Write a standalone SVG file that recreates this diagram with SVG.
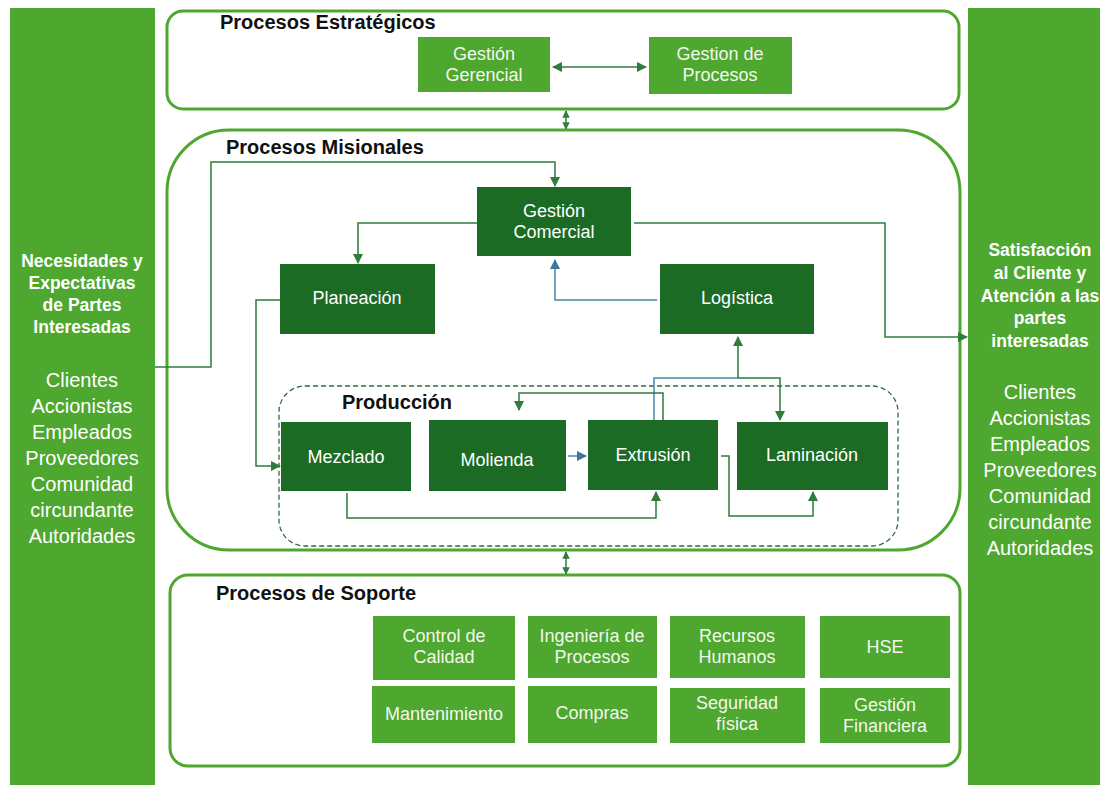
<svg xmlns="http://www.w3.org/2000/svg" width="1106" height="785" viewBox="0 0 1106 785">
<style>
.bar{fill:#4ea72e}
.frame{fill:none;stroke:#4ea72e;stroke-width:3}
.lt{fill:#4ea72e}
.dk{fill:#1b6b24}
.title{font-family:"Liberation Sans",Arial,sans-serif;font-weight:bold;font-size:20px;fill:#111}
.t{font-family:"Liberation Sans",Arial,sans-serif;font-size:18px;fill:#fff;text-anchor:middle}
.tc{font-family:"Liberation Sans",Arial,sans-serif;font-size:18px;fill:#f2f7ee;text-anchor:middle}
.sb{font-family:"Liberation Sans",Arial,sans-serif;font-weight:bold;font-size:17.5px;fill:#fff;text-anchor:middle}
.sr{font-family:"Liberation Sans",Arial,sans-serif;font-size:20px;fill:#fff;text-anchor:middle}
.c{fill:none;stroke:#2e7d3a;stroke-width:1.5}
.cb{fill:none;stroke:#4a87aa;stroke-width:1.5}
</style>
<defs>
<marker id="ag" viewBox="0 0 10 10" refX="9" refY="5" markerWidth="7" markerHeight="7" orient="auto-start-reverse"><path d="M0,0 L10,5 L0,10 z" fill="#2e7d3a"/></marker>
<marker id="as" viewBox="0 0 10 10" refX="9" refY="5" markerWidth="5" markerHeight="5" orient="auto-start-reverse"><path d="M0,0 L10,5 L0,10 z" fill="#2e7d3a"/></marker>
<marker id="ab" viewBox="0 0 10 10" refX="9" refY="5" markerWidth="7" markerHeight="7" orient="auto-start-reverse"><path d="M0,0 L10,5 L0,10 z" fill="#3a78a0"/></marker>
</defs>
<rect width="1106" height="785" fill="#fff"/>

<g id="left-bar">
<rect class="bar" x="10" y="8" width="145" height="777"/>
<text class="sb" x="82" y="267">Necesidades y</text>
<text class="sb" x="82" y="289">Expectativas</text>
<text class="sb" x="82" y="311">de Partes</text>
<text class="sb" x="82" y="333">Interesadas</text>
<text class="sr" x="82" y="387">Clientes</text>
<text class="sr" x="82" y="413">Accionistas</text>
<text class="sr" x="82" y="439">Empleados</text>
<text class="sr" x="82" y="465">Proveedores</text>
<text class="sr" x="82" y="491">Comunidad</text>
<text class="sr" x="82" y="517">circundante</text>
<text class="sr" x="82" y="543">Autoridades</text>
</g>

<g id="right-bar">
<rect class="bar" x="968" y="8" width="132" height="777"/>
<text class="sb" x="1040" y="256">Satisfacción</text>
<text class="sb" x="1040" y="279">al Cliente y</text>
<text class="sb" x="1040" y="302">Atención a las</text>
<text class="sb" x="1040" y="324">partes</text>
<text class="sb" x="1040" y="347">interesadas</text>
<text class="sr" x="1040" y="399">Clientes</text>
<text class="sr" x="1040" y="425">Accionistas</text>
<text class="sr" x="1040" y="451">Empleados</text>
<text class="sr" x="1040" y="477">Proveedores</text>
<text class="sr" x="1040" y="503">Comunidad</text>
<text class="sr" x="1040" y="529">circundante</text>
<text class="sr" x="1040" y="555">Autoridades</text>
</g>

<g id="estrategicos">
<rect class="frame" x="167" y="11" width="792" height="98" rx="16"/>
<text class="title" x="220" y="29">Procesos Estratégicos</text>
</g>
<g id="gestion-gerencial">
<rect class="lt" x="418" y="37" width="132" height="55"/>
<text class="tc" x="484" y="60">Gestión</text>
<text class="tc" x="484" y="81">Gerencial</text>
</g>
<g id="gestion-procesos">
<rect class="lt" x="649" y="37" width="143" height="57"/>
<text class="tc" x="720" y="60">Gestion de</text>
<text class="tc" x="720" y="81">Procesos</text>
</g>

<g id="misionales">
<rect class="frame" x="167" y="130" width="793" height="420" rx="62"/>
<text class="title" x="226" y="154">Procesos Misionales</text>
</g>
<g id="produccion">
<rect x="279" y="386" width="619" height="160" rx="26" fill="none" stroke="#2e6b3a" stroke-width="1.3" stroke-dasharray="5,3"/>
<text class="title" x="342" y="409">Producción</text>
</g>
<g id="gestion-comercial">
<rect class="dk" x="477" y="187" width="154" height="69"/>
<text class="t" x="554" y="217">Gestión</text>
<text class="t" x="554" y="238">Comercial</text>
</g>
<g id="planeacion">
<rect class="dk" x="280" y="264" width="155" height="70"/>
<text class="t" x="357" y="304">Planeación</text>
</g>
<g id="logistica">
<rect class="dk" x="660" y="264" width="154" height="70"/>
<text class="t" x="737" y="304">Logística</text>
</g>
<g id="mezclado">
<rect class="dk" x="281" y="422" width="130" height="69"/>
<text class="t" x="346" y="463">Mezclado</text>
</g>
<g id="molienda">
<rect class="dk" x="429" y="420" width="137" height="71"/>
<text class="t" x="497" y="466">Molienda</text>
</g>
<g id="extrusion">
<rect class="dk" x="588" y="420" width="130" height="70"/>
<text class="t" x="653" y="461">Extrusión</text>
</g>
<g id="laminacion">
<rect class="dk" x="737" y="422" width="151" height="68"/>
<text class="t" x="812" y="461">Laminación</text>
</g>

<g id="soporte">
<rect class="frame" x="170" y="575" width="790" height="191" rx="18"/>
<text class="title" x="216" y="600">Procesos de Soporte</text>
</g>
<g id="control-calidad">
<rect class="lt" x="373" y="616" width="142" height="64"/>
<text class="tc" x="444" y="642">Control de</text>
<text class="tc" x="444" y="663">Calidad</text>
</g>
<g id="ingenieria-procesos">
<rect class="lt" x="528" y="616" width="129" height="62"/>
<text class="tc" x="592" y="642">Ingeniería de</text>
<text class="tc" x="592" y="663">Procesos</text>
</g>
<g id="recursos-humanos">
<rect class="lt" x="670" y="616" width="135" height="62"/>
<text class="tc" x="737" y="642">Recursos</text>
<text class="tc" x="737" y="663">Humanos</text>
</g>
<g id="hse">
<rect class="lt" x="820" y="616" width="130" height="62"/>
<text class="tc" x="885" y="653">HSE</text>
</g>
<g id="mantenimiento">
<rect class="lt" x="372" y="686" width="143" height="57"/>
<text class="tc" x="444" y="720">Mantenimiento</text>
</g>
<g id="compras">
<rect class="lt" x="528" y="686" width="129" height="57"/>
<text class="tc" x="592" y="719">Compras</text>
</g>
<g id="seguridad-fisica">
<rect class="lt" x="670" y="688" width="135" height="55"/>
<text class="tc" x="737" y="709">Seguridad</text>
<text class="tc" x="737" y="730">física</text>
</g>
<g id="gestion-financiera">
<rect class="lt" x="820" y="688" width="130" height="55"/>
<text class="tc" x="885" y="711">Gestión</text>
<text class="tc" x="885" y="732">Financiera</text>
</g>

<g id="connectors">
<path class="c" d="M553,67 H646" marker-start="url(#ag)" marker-end="url(#ag)"/>
<path class="c" d="M566,111 V129" marker-start="url(#as)" marker-end="url(#as)"/>
<path class="c" d="M566,552 V574" marker-start="url(#as)" marker-end="url(#as)"/>
<path class="c" d="M155,367 H211 V162 H555 V186" marker-end="url(#ag)"/>
<path class="c" d="M477,223 H358 V263" marker-end="url(#ag)"/>
<path class="c" d="M634,223 H885 V337 H967" marker-end="url(#ag)"/>
<path class="cb" d="M657,300 H555 V260" marker-end="url(#ab)"/>
<path class="c" d="M280,300 H256 V466 H280" marker-end="url(#ag)"/>
<path class="cb" d="M568,456 H586" marker-end="url(#ab)"/>
<path class="c" d="M347,493 V518 H656 V492" marker-end="url(#ag)"/>
<path class="c" d="M721,456 H729 V516 H813 V492" marker-end="url(#ag)"/>
<path class="cb" d="M654,420 V378 H738"/>
<path class="c" d="M738,378 V337" marker-end="url(#ag)"/>
<path class="c" d="M738,378 H780 V420" marker-end="url(#ag)"/>
<path class="c" d="M663,420 V393 H519 V410" marker-end="url(#ag)"/>
</g>
</svg>
